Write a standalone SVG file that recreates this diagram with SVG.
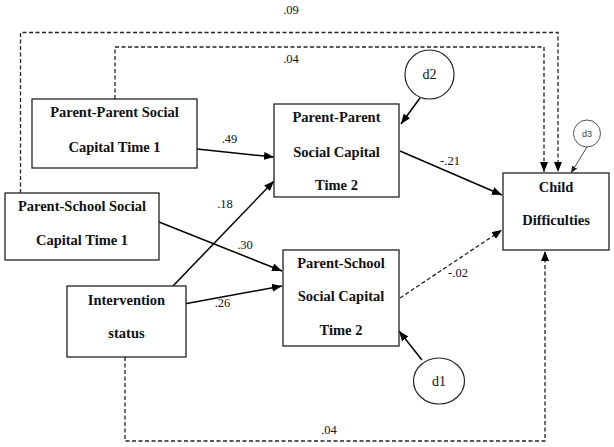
<svg xmlns="http://www.w3.org/2000/svg" width="614" height="447" viewBox="0 0 614 447">
<style>
.box{fill:#fff;stroke:#222;stroke-width:1.3}
.lbl{font-family:"Liberation Serif","Times New Roman",serif;font-weight:bold;font-size:14.5px;fill:#111;text-anchor:middle}
.num{font-family:"Liberation Serif","Times New Roman",serif;font-size:12.5px;fill:#111;text-anchor:middle}
.dtx{font-family:"Liberation Serif","Times New Roman",serif;font-size:14px;fill:#111;text-anchor:middle}
.solid{fill:none;stroke:#000;stroke-width:1.5}
.dash{fill:none;stroke:#222;stroke-width:1.3;stroke-dasharray:4,2.5}
.circ{fill:#fff;stroke:#222;stroke-width:1.2}
</style>
<defs>
<marker id="ah" markerUnits="userSpaceOnUse" markerWidth="10" markerHeight="8" refX="10" refY="4" orient="auto">
<path d="M0,0 L10,4 L0,8 z" fill="#000"/>
</marker>
<marker id="ahs" markerUnits="userSpaceOnUse" markerWidth="7" markerHeight="6" refX="7" refY="3" orient="auto">
<path d="M0,0 L7,3 L0,6 z" fill="#222"/>
</marker>
</defs>
<rect width="614" height="447" fill="#fff"/>
<g id="connectors">
<polyline class="dash" points="20.5,193 20.5,32.5 558,32.5 558,172" marker-end="url(#ah)"/>
<polyline class="dash" points="115,99 115,47 544,47 544,172" marker-end="url(#ah)"/>
<polyline class="dash" points="125,357 125,441 545,441 545,251" marker-end="url(#ah)"/>
<line class="solid" x1="197" y1="149" x2="274" y2="157" marker-end="url(#ah)"/>
<line class="solid" x1="173" y1="286" x2="274" y2="181" marker-end="url(#ah)"/>
<line class="solid" x1="159" y1="222" x2="282" y2="271" marker-end="url(#ah)"/>
<line class="solid" x1="184" y1="304" x2="282" y2="286" marker-end="url(#ah)"/>
<line class="solid" x1="400" y1="151" x2="502" y2="195" marker-end="url(#ah)"/>
<line class="dash" x1="400" y1="298" x2="502" y2="230" marker-end="url(#ah)"/>
<line class="solid" x1="420" y1="98" x2="401" y2="124" marker-end="url(#ah)"/>
<line class="solid" x1="422" y1="360" x2="399" y2="331" marker-end="url(#ah)"/>
<line x1="587" y1="147" x2="571" y2="173" stroke="#444" stroke-width="1" marker-end="url(#ahs)"/>
<text class="num" x="291" y="14">.09</text>
<text class="num" x="291" y="63">.04</text>
<text class="num" x="229.5" y="143">.49</text>
<text class="num" x="225" y="208">.18</text>
<text class="num" x="245" y="249">.30</text>
<text class="num" x="222.5" y="307">.26</text>
<text class="num" x="450" y="165">-.21</text>
<text class="num" x="458" y="277">-.02</text>
<text class="num" x="329" y="434">.04</text>
</g>
<g id="pp1">
<rect class="box" x="32" y="99" width="165" height="69"/>
<text class="lbl" x="114.5" y="117">Parent-Parent Social</text>
<text class="lbl" x="114.5" y="152">Capital Time 1</text>
</g>
<g id="ps1">
<rect class="box" x="5" y="193" width="154" height="67"/>
<text class="lbl" x="82" y="211">Parent-School Social</text>
<text class="lbl" x="82" y="245">Capital Time 1</text>
</g>
<g id="intervention">
<rect class="box" x="67" y="286" width="119" height="71"/>
<text class="lbl" x="126.5" y="305">Intervention</text>
<text class="lbl" x="126.5" y="338">status</text>
</g>
<g id="pp2">
<rect class="box" x="274" y="104" width="125" height="93"/>
<text class="lbl" x="336.5" y="122">Parent-Parent</text>
<text class="lbl" x="336.5" y="157">Social Capital</text>
<text class="lbl" x="336.5" y="190">Time 2</text>
</g>
<g id="ps2">
<rect class="box" x="283" y="250" width="116" height="96"/>
<text class="lbl" x="341" y="268">Parent-School</text>
<text class="lbl" x="341" y="301">Social Capital</text>
<text class="lbl" x="341" y="335">Time 2</text>
</g>
<g id="child">
<rect class="box" x="503" y="173" width="106" height="77"/>
<text class="lbl" x="556" y="192">Child</text>
<text class="lbl" x="556" y="225">Difficulties</text>
</g>
<g id="d2">
<circle class="circ" cx="429.5" cy="74.5" r="24.5"/>
<text class="dtx" x="429.5" y="79">d2</text>
</g>
<g id="d1">
<ellipse class="circ" cx="439" cy="381" rx="25.5" ry="23"/>
<text class="dtx" x="439" y="386">d1</text>
</g>
<g id="d3">
<circle fill="#fff" stroke="#555" stroke-width="1" cx="587" cy="133.5" r="13.5"/>
<text x="587" y="137" font-family="Liberation Sans, Arial, sans-serif" font-size="9px" fill="#444" text-anchor="middle">d3</text>
</g>
</svg>
